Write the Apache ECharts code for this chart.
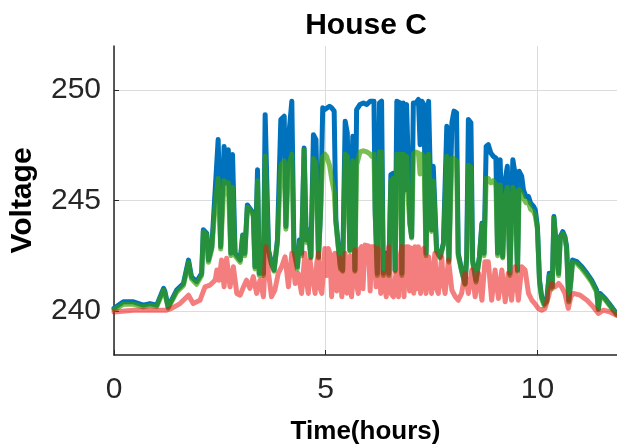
<!DOCTYPE html>
<html>
<head>
<meta charset="utf-8">
<script src="https://cdn.jsdelivr.net/npm/echarts@6/dist/echarts.min.js"></script>
<style>html,body{margin:0;padding:0;background:#fff}#c{width:617px;height:444px}</style>
</head>
<body>
<div id="c"></div>
<script>
const titleText = 'House C';
const xTicks = [0, 5, 10];
const yTicks = [240, 245, 250];

const blueSeries = [[0,240.12],[0.22,240.41],[0.46,240.41],[0.69,240.26],[0.85,240.33],[1.01,240.26],[1.17,241.02],[1.20,240.9],[1.28,240.18],[1.48,240.94],[1.64,241.24],[1.76,242.3],[1.83,241.55],[1.95,241.32],[2.07,241.7],[2.11,243.67],[2.19,243.52],[2.23,242.3],[2.31,242.91],[2.39,245.48],[2.46,247.76],[2.52,242.91],[2.60,247.45],[2.66,245.79],[2.70,247.3],[2.76,242.61],[2.80,247.08],[2.86,242.61],[2.98,242.3],[3.04,243.44],[3.09,242.61],[3.15,244.8],[3.23,244.58],[3.29,244.42],[3.33,242.0],[3.39,246.39],[3.43,241.7],[3.53,241.7],[3.57,248.89],[3.61,248.89],[3.65,242.76],[3.72,242.15],[3.78,241.85],[3.86,243.21],[3.94,248.67],[4.02,248.82],[4.06,243.82],[4.12,247.76],[4.20,249.5],[4.25,242.76],[4.33,242.0],[4.38,243.21],[4.43,242.61],[4.49,247.38],[4.54,243.21],[4.59,243.67],[4.65,242.45],[4.71,247.98],[4.77,247.76],[4.83,242.45],[4.88,244.58],[4.93,249.2],[4.98,249.12],[5.02,249.2],[5.09,249.27],[5.14,249.2],[5.20,249.05],[5.24,244.12],[5.30,242.91],[5.35,242.0],[5.40,241.85],[5.46,248.59],[5.51,248.06],[5.57,242.76],[5.64,247.91],[5.69,241.85],[5.73,249.12],[5.81,249.35],[5.89,249.42],[5.97,249.35],[6.05,249.5],[6.09,249.42],[6.14,249.5],[6.17,244.42],[6.22,241.7],[6.27,249.42],[6.32,249.5],[6.36,241.7],[6.43,242.61],[6.49,241.7],[6.54,246.17],[6.60,246.24],[6.64,241.85],[6.68,249.5],[6.72,249.5],[6.76,249.42],[6.80,241.7],[6.83,249.42],[6.87,245.48],[6.91,249.35],[6.95,249.42],[6.99,243.97],[7.03,243.36],[7.07,249.42],[7.13,249.42],[7.19,249.58],[7.23,247.53],[7.27,249.5],[7.32,249.35],[7.37,242.61],[7.43,249.5],[7.46,249.58],[7.50,243.67],[7.54,246.55],[7.62,242.76],[7.70,242.45],[7.78,243.06],[7.86,248.36],[7.91,242.3],[7.98,248.52],[8.03,249.05],[8.09,248.97],[8.13,242.61],[8.21,241.85],[8.29,241.24],[8.33,242.45],[8.37,248.67],[8.43,248.52],[8.47,242.3],[8.55,241.39],[8.63,242.45],[8.69,243.97],[8.74,242.61],[8.79,247.45],[8.84,247.53],[8.90,247.15],[8.96,247.0],[9.02,246.92],[9.06,242.61],[9.12,246.85],[9.18,242.45],[9.24,245.94],[9.29,246.55],[9.35,241.7],[9.42,246.85],[9.47,246.24],[9.53,241.85],[9.57,246.32],[9.63,246.09],[9.67,245.48],[9.73,245.18],[9.79,245.18],[9.84,244.88],[9.91,244.73],[9.95,244.58],[10.0,243.82],[10.05,241.39],[10.10,240.64],[10.16,240.33],[10.22,240.48],[10.28,241.7],[10.35,241.09],[10.39,244.27],[10.46,242.61],[10.50,241.7],[10.54,243.36],[10.60,243.59],[10.65,243.36],[10.69,242.91],[10.74,240.48],[10.79,241.39],[10.83,242.3],[10.93,242.23],[11.05,242.0],[11.17,241.7],[11.28,241.39],[11.40,240.94],[11.44,240.1],[11.48,240.79],[11.60,240.56],[11.72,240.26],[11.87,239.88]];

const greenSeries = [[0,240.05],[0.22,240.3],[0.46,240.3],[0.69,240.18],[0.85,240.25],[1.01,240.2],[1.17,240.94],[1.20,240.8],[1.28,240.12],[1.48,240.85],[1.64,241.15],[1.76,242.2],[1.83,241.45],[1.95,241.2],[2.07,241.6],[2.11,243.6],[2.19,243.45],[2.23,242.2],[2.31,242.8],[2.39,244.8],[2.46,246.0],[2.52,242.8],[2.60,245.9],[2.66,245.3],[2.70,245.8],[2.76,242.5],[2.80,245.6],[2.86,242.5],[2.98,242.2],[3.04,243.4],[3.09,242.5],[3.15,244.7],[3.23,244.5],[3.29,244.3],[3.33,241.9],[3.39,245.9],[3.43,241.6],[3.53,241.6],[3.57,247.0],[3.61,247.0],[3.65,242.7],[3.72,242.1],[3.78,241.8],[3.86,243.1],[3.94,246.6],[4.02,246.8],[4.06,243.7],[4.12,246.5],[4.20,247.1],[4.25,242.7],[4.33,241.9],[4.38,243.1],[4.43,242.5],[4.49,247.3],[4.54,243.1],[4.59,243.6],[4.65,242.4],[4.71,246.9],[4.77,246.7],[4.83,242.4],[4.88,244.5],[4.93,247.0],[4.98,247.1],[5.02,247.0],[5.09,246.6],[5.14,246.0],[5.20,245.4],[5.24,244.0],[5.30,242.8],[5.35,241.9],[5.40,241.8],[5.46,247.1],[5.51,247.0],[5.57,242.7],[5.64,246.8],[5.69,241.8],[5.73,246.6],[5.81,247.2],[5.89,247.25],[5.97,247.2],[6.05,247.1],[6.09,247.0],[6.14,247.1],[6.17,244.3],[6.22,241.6],[6.27,247.2],[6.32,247.2],[6.36,241.6],[6.43,242.5],[6.49,241.6],[6.54,245.9],[6.60,246.0],[6.64,241.8],[6.68,247.1],[6.72,247.15],[6.76,247.1],[6.80,241.6],[6.83,247.1],[6.87,245.4],[6.91,247.0],[6.95,245.0],[6.99,243.9],[7.03,243.3],[7.07,247.1],[7.13,247.2],[7.19,247.15],[7.23,246.2],[7.27,247.1],[7.32,247.0],[7.37,242.5],[7.43,247.1],[7.46,247.15],[7.50,243.6],[7.54,245.9],[7.62,242.7],[7.70,242.4],[7.78,243.0],[7.86,247.0],[7.91,242.2],[7.98,246.9],[8.03,246.9],[8.09,246.8],[8.13,242.5],[8.21,241.8],[8.29,241.2],[8.33,242.4],[8.37,246.6],[8.43,246.5],[8.47,242.2],[8.55,241.3],[8.63,242.4],[8.69,243.9],[8.74,242.5],[8.79,246.0],[8.84,246.0],[8.90,245.8],[8.96,245.9],[9.02,245.7],[9.06,242.5],[9.12,245.7],[9.18,242.4],[9.24,245.2],[9.29,245.6],[9.35,241.6],[9.42,245.6],[9.47,245.4],[9.53,241.8],[9.57,245.5],[9.63,245.3],[9.67,245.1],[9.73,244.9],[9.79,244.9],[9.84,244.6],[9.91,244.5],[9.95,244.3],[10.0,243.7],[10.05,241.3],[10.10,240.55],[10.16,240.25],[10.22,240.4],[10.28,241.6],[10.35,241.0],[10.39,244.2],[10.46,242.5],[10.50,241.6],[10.54,243.3],[10.60,243.5],[10.65,243.3],[10.69,242.8],[10.74,240.4],[10.79,241.3],[10.83,242.2],[10.93,242.15],[11.05,241.9],[11.17,241.6],[11.28,241.3],[11.40,240.85],[11.44,240.05],[11.48,240.7],[11.60,240.5],[11.72,240.2],[11.87,239.82]];

const redSeries = [[0,239.95],[0.46,240.03],[1.24,240.03],[1.36,240.11],[1.56,240.33],[1.76,240.71],[1.87,240.33],[2.03,240.48],[2.15,241.09],[2.27,241.17],[2.39,241.39],[2.43,241.85],[2.48,241.39],[2.54,242.3],[2.60,241.09],[2.66,242.38],[2.74,241.09],[2.82,242.0],[2.90,240.79],[2.98,240.71],[3.06,241.09],[3.13,241.39],[3.21,241.02],[3.29,241.55],[3.37,240.79],[3.45,241.39],[3.53,240.64],[3.59,242.91],[3.65,241.7],[3.72,240.64],[3.80,240.94],[3.88,241.7],[3.96,242.0],[4.04,242.45],[4.12,241.09],[4.20,242.61],[4.28,241.24],[4.35,241.7],[4.43,240.79],[4.51,242.61],[4.55,241.3],[4.59,240.79],[4.63,242.3],[4.67,241.7],[4.75,240.79],[4.79,242.2],[4.83,242.61],[4.87,241.0],[4.91,240.79],[4.98,242.83],[5.02,241.6],[5.06,242.83],[5.10,242.6],[5.14,240.64],[5.18,242.2],[5.22,242.61],[5.26,240.9],[5.30,241.39],[5.34,242.4],[5.38,240.64],[5.42,241.8],[5.46,242.61],[5.50,240.8],[5.54,241.55],[5.58,242.5],[5.61,240.64],[5.65,241.5],[5.69,242.76],[5.73,241.2],[5.77,240.79],[5.81,242.8],[5.85,242.91],[5.88,241.0],[5.93,242.98],[6.01,242.94],[6.05,240.9],[6.09,242.91],[6.14,242.91],[6.19,241.09],[6.24,242.83],[6.30,240.79],[6.36,241.7],[6.43,240.64],[6.49,242.91],[6.54,240.79],[6.60,240.64],[6.66,241.7],[6.72,240.64],[6.76,242.5],[6.80,242.91],[6.85,240.64],[6.90,242.91],[6.95,242.91],[6.98,240.9],[7.01,242.85],[7.05,242.83],[7.08,240.8],[7.11,242.91],[7.15,241.0],[7.19,242.91],[7.24,240.79],[7.31,242.83],[7.34,241.3],[7.37,240.79],[7.43,242.45],[7.50,240.79],[7.54,241.9],[7.58,242.61],[7.62,241.0],[7.66,240.79],[7.74,242.45],[7.78,241.2],[7.82,240.79],[7.90,242.3],[7.98,240.94],[8.06,240.64],[8.13,240.48],[8.21,240.79],[8.29,241.7],[8.37,240.79],[8.45,241.85],[8.53,240.64],[8.61,241.7],[8.69,240.48],[8.76,242.23],[8.84,242.23],[8.92,240.48],[9.0,241.85],[9.08,240.56],[9.16,241.85],[9.24,240.41],[9.31,241.7],[9.39,240.48],[9.47,242.0],[9.55,240.48],[9.63,242.0],[9.71,241.85],[9.79,240.79],[9.87,240.48],[9.94,240.33],[10.02,240.11],[10.10,240.03],[10.18,240.11],[10.26,240.64],[10.34,241.24],[10.42,241.09],[10.50,241.24],[10.57,241.09],[10.65,240.79],[10.73,240.11],[10.79,240.64],[10.85,240.79],[11.01,240.71],[11.17,240.48],[11.32,240.18],[11.44,239.88],[11.56,240.03],[11.72,239.95],[11.87,239.8]];

const FONT = '"Liberation Sans", Arial, sans-serif';
const chart = echarts.init(document.getElementById('c'), null, {renderer: 'canvas'});
const lineSeries = (data, color, opacity) => ({
  type: 'line', data: data, showSymbol: false, symbol: 'none', animation: false,
  lineStyle: {color: color, width: 5, opacity: opacity, join: 'round', cap: 'round'},
  itemStyle: {color: color}
});
chart.setOption({
  animation: false,
  backgroundColor: '#fff',
  title: {
    text: titleText, left: 361, top: 6, textAlign: 'center',
    textStyle: {fontFamily: FONT, fontSize: 30, fontWeight: 'bold', color: '#000'}
  },
  grid: {left: 114, right: 0, top: 46, bottom: 89, containLabel: false, outerBoundsMode: 'none'},
  xAxis: {
    type: 'value', min: 0, max: 11.88, interval: 5,
    name: 'Time(hours)', nameLocation: 'middle', nameGap: 64,
    nameTextStyle: {fontFamily: FONT, fontSize: 26, fontWeight: 'bold', color: '#000'},
    axisLine: {show: true, onZero: false, lineStyle: {color: '#262626', width: 1.5}},
    axisTick: {show: true, inside: true, length: 5, lineStyle: {color: '#262626'}},
    axisLabel: {fontFamily: FONT, fontSize: 30, color: '#262626', margin: 20, showMaxLabel: false},
    splitLine: {show: true, lineStyle: {color: '#dcdcdc', width: 1}}
  },
  yAxis: {
    type: 'value', min: 238, max: 252,
    name: 'Voltage', nameLocation: 'middle', nameGap: 76, nameRotate: 90,
    nameTextStyle: {fontFamily: FONT, fontSize: 30, fontWeight: 'bold', color: '#000'},
    axisLine: {show: true, onZero: false, lineStyle: {color: '#262626', width: 1.5}},
    axisTick: {show: true, inside: true, length: 5, customValues: yTicks, lineStyle: {color: '#262626'}},
    axisLabel: {fontFamily: FONT, fontSize: 30, color: '#262626', margin: 13, padding: [14, 0, 0, 0], customValues: yTicks},
    splitLine: {show: true, lineStyle: {color: '#dcdcdc', width: 1}}
  },
  series: [
    lineSeries(blueSeries, '#0072BD', 1),
    lineSeries(greenSeries, 'rgb(56,159,0)', 0.68),
    lineSeries(redSeries, 'rgb(235,20,20)', 0.55)
  ]
});
</script>
</body>
</html>
